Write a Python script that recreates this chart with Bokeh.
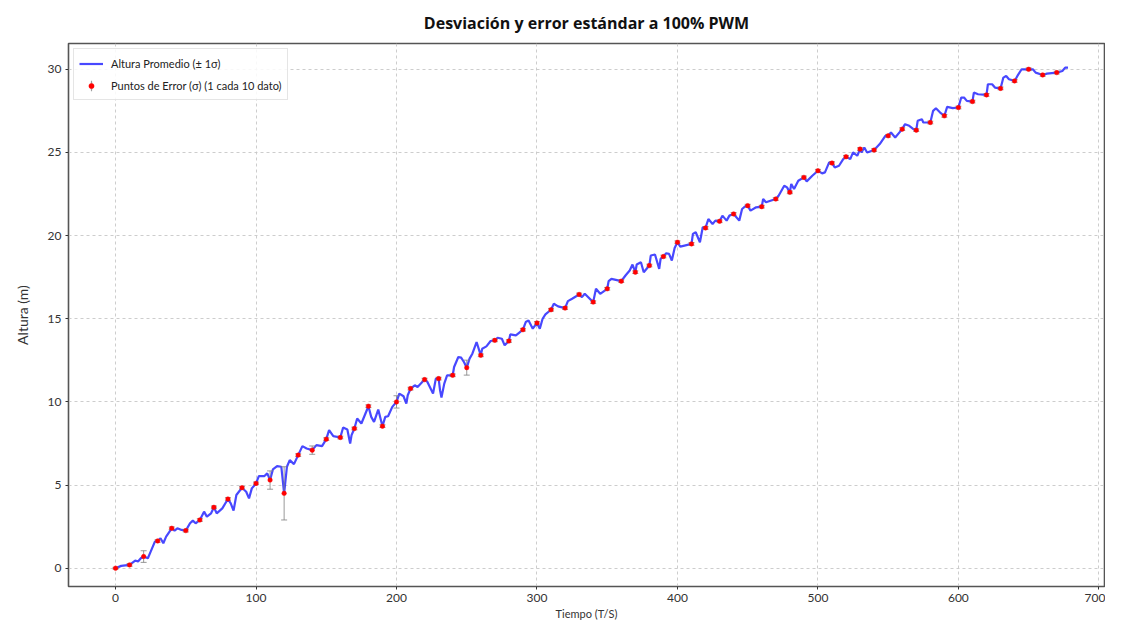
import math
from bokeh.plotting import figure
from bokeh.models import Range1d, SingleIntervalTicker, Legend, LegendItem, ColumnDataSource
from bokeh.embed import file_html
from bokeh.resources import INLINE

# ---- data ----
tiempo = [0, 4, 10, 14, 16, 18, 20, 23, 25, 28, 30, 32, 34, 36, 40, 42, 44, 47, 50, 53, 55, 57, 60, 63, 65, 68, 70, 72, 76, 80,
          82, 84, 86, 90, 93, 95, 97, 100, 102, 106, 108, 110, 112, 115, 118, 120, 122, 124, 127, 130, 133, 136, 140, 143, 147, 150,
          152, 155, 160, 162, 165, 167, 168, 170, 172, 175, 180, 182, 184, 187, 190, 192, 194, 197, 200, 202, 205, 207, 208, 210,
          213, 215, 220, 222, 226, 228, 230, 231, 232, 234, 236, 240, 241, 244, 246, 248, 250, 252, 254, 257, 260, 261, 264, 267,
          270, 272, 275, 277, 280, 281, 285, 287, 290, 292, 294, 297, 300,
          302, 304, 306, 310, 312, 315, 320, 322, 325, 330, 332, 334, 340, 342, 345, 350, 351, 353, 360, 363, 366, 368, 370, 371,
          374, 376, 380, 381, 384, 387, 388, 390, 392, 394, 396, 398, 400, 402, 405, 410, 411, 413, 416, 418, 420, 422, 425, 427,
          430, 432, 435, 437, 440, 444, 446, 448,
          450, 452, 456, 460, 461, 463, 470, 472, 476, 478, 480, 481, 483, 486, 490, 492, 496, 500, 503, 505, 508, 510, 512, 515,
          518, 520, 523, 525, 528, 530, 531, 533, 535, 540, 544, 548, 550, 552, 555, 560, 562, 565, 568, 570, 571, 574, 575, 580,
          582, 584, 587, 590, 592, 596, 600,
          602, 604, 606, 610, 611, 614, 620, 621, 624, 626, 630, 632, 634, 636, 640, 642, 645, 650, 653, 655, 660, 663, 670, 674,
          676, 678]
altura = [0, 0.14, 0.2, 0.46, 0.4, 0.6, 0.7, 0.6, 1.0, 1.6, 1.64, 1.8, 1.5, 1.9, 2.4, 2.26, 2.4, 2.3, 2.26, 2.7, 2.86, 2.7, 2.9,
          3.4, 3.1, 3.3, 3.66, 3.3, 3.6, 4.16, 3.9, 3.46, 4.4, 4.84, 4.6, 4.2, 4.8, 5.1, 5.54, 5.54, 5.7, 5.3, 5.94, 6.14, 6.1, 4.5,
          6.1, 6.5, 6.26, 6.8, 7.34, 7.2, 7.1, 7.4, 7.34, 7.76,
          8.3, 7.94, 7.86, 8.46, 8.34, 7.5, 8.0, 8.4, 9.0, 8.7, 9.74, 9.1, 8.8, 9.54, 8.54, 9.1, 9.14, 9.7, 10.0, 10.5, 10.34, 9.9,
          10.4, 10.8, 11.0, 10.9, 11.34, 11.2, 10.5, 11.4, 11.4, 10.7, 10.26, 11.1, 11.6, 11.6, 12.1, 12.7, 12.66, 12.4, 12.06,
          12.6, 12.9, 13.6, 12.8, 13.2, 13.34, 13.66, 13.7, 13.86, 13.8, 13.4, 13.66, 14.06, 14.0, 14.14, 14.34, 14.8, 14.9, 14.4,
          14.75,
          14.4, 15.0, 15.26, 15.54, 15.9, 15.74, 15.64, 16.06, 16.2, 16.46, 16.3, 16.5, 16.0, 16.8, 16.5, 16.8, 17.26, 17.4, 17.26,
          17.6, 17.9, 18.26, 17.8, 18.26, 18.4, 17.8, 18.2, 18.8, 18.86, 18.0, 18.6, 18.74, 18.94, 18.9, 18.5, 19.26, 19.6, 19.34,
          19.4, 19.5, 20.1, 20.2, 19.6, 20.5, 20.46, 21.0, 20.7, 20.9, 20.86, 21.2, 20.9, 21.2, 21.3, 20.9, 21.6, 21.74,
          21.8, 21.5, 21.7, 21.74, 22.2, 22.0, 22.2, 22.4, 23.0, 22.9, 22.6, 23.1, 22.8, 23.3, 23.5, 23.26, 23.6, 23.9, 23.74, 23.8,
          24.4, 24.36, 24.1, 24.2, 24.6, 24.74, 24.6, 25.0, 24.8, 25.2, 25.0, 25.3, 25.0, 25.14, 25.5, 26.0, 26.0, 26.2, 25.9, 26.4,
          26.7, 26.6, 26.4, 26.34, 26.9, 27.0, 26.8, 26.8, 27.5, 27.66, 27.4, 27.2, 27.74, 27.66, 27.7,
          28.3, 28.3, 28.1, 28.06, 28.6, 28.5, 28.46, 29.1, 29.1, 28.9, 28.85, 29.5, 29.6, 29.4, 29.3, 29.6, 30.0, 30.0, 30.0, 29.8,
          29.66, 29.74, 29.8, 29.9, 30.1, 30.1]

t_err = list(range(0, 680, 10))
y_err = [0, 0.2, 0.7, 1.64, 2.4, 2.26, 2.9, 3.66, 4.16, 4.84, 5.1, 5.3, 4.5, 6.8, 7.1, 7.76, 7.86, 8.4, 9.74, 8.54,
         10.0, 10.8, 11.34, 11.4, 11.6, 12.06, 12.8, 13.7, 13.66, 14.34, 14.75, 15.54, 15.64, 16.46, 16.0, 16.8, 17.26,
         17.8, 18.2, 18.74, 19.6, 19.5, 20.46, 20.86, 21.3, 21.8, 21.74, 22.2, 22.6, 23.5, 23.9, 24.36, 24.74, 25.2,
         25.14, 26.0, 26.4, 26.34, 26.8, 27.2, 27.7, 28.06, 28.46, 28.85, 29.3, 30.0, 29.66, 29.8]
sigma = [0.05, 0.08, 0.35, 0.08, 0.08, 0.08, 0.08, 0.08, 0.08, 0.08, 0.08, 0.55, 1.6, 0.08, 0.25, 0.08, 0.08, 0.08, 0.08,
         0.08, 0.37, 0.08, 0.08, 0.08, 0.08, 0.45, 0.08, 0.08, 0.08, 0.08, 0.08, 0.08, 0.08, 0.08, 0.08, 0.08, 0.08, 0.08,
         0.08, 0.08, 0.08, 0.08, 0.08, 0.08, 0.08, 0.08, 0.08, 0.08, 0.08, 0.08, 0.08, 0.08, 0.08, 0.08, 0.08, 0.08, 0.08,
         0.08, 0.08, 0.08, 0.08, 0.08, 0.08, 0.08, 0.08, 0.08, 0.08, 0.08]

x_ticks_step = 100
y_ticks_step = 5

FONT = "Lato"

p = figure(width=1105, height=622, output_backend="svg", toolbar_location=None,
           x_range=Range1d(-33.5, 704), y_range=Range1d(-1.1, 31.55),
           title="Desviación y error estándar a 100% PWM",
           min_border_left=68, min_border_right=1)

p.title.align = "center"
p.title.text_font = "Open Sans"
p.title.text_font_style = "bold"
p.title.text_font_size = "16px"
p.title.text_color = "#111111"
p.title.standoff = 19

p.outline_line_color = "#555555"
p.outline_line_width = 1.6

for ax in (p.xaxis[0], p.yaxis[0]):
    ax.axis_line_color = None
    ax.major_tick_out = 3
    ax.major_tick_in = 0
    ax.minor_tick_line_color = None
    ax.major_tick_line_color = "#333333"
    ax.major_label_text_font = FONT
    ax.major_label_text_font_size = "12px"
    ax.major_label_text_color = "#333333"
    ax.major_label_standoff = 3
    ax.axis_label_text_font = FONT
    ax.axis_label_text_font_style = "normal"
    ax.axis_label_text_color = "#333333"

p.xaxis.ticker = SingleIntervalTicker(interval=x_ticks_step)
p.yaxis.ticker = SingleIntervalTicker(interval=y_ticks_step)
p.xaxis.axis_label = "Tiempo (T/S)"
p.xaxis.axis_label_text_font_size = "11px"
p.xaxis.axis_label_standoff = 2
p.yaxis.axis_label = "Altura (m)"
p.yaxis.axis_label_text_font_size = "14px"
p.yaxis.axis_label_standoff = 14

for g in (p.xgrid[0], p.ygrid[0]):
    g.grid_line_color = "#c8c8c8"
    g.grid_line_dash = "3 3"
    g.grid_line_alpha = 0.9
    g.grid_line_width = 1

line_r = p.line(tiempo, altura, line_color="#1a1aff", line_width=2.2, line_alpha=0.8)

lo = [v - s for v, s in zip(y_err, sigma)]
hi = [v + s for v, s in zip(y_err, sigma)]
src = ColumnDataSource(dict(t=t_err, y=y_err, lo=lo, hi=hi))
p.segment(x0="t", y0="lo", x1="t", y1="hi", source=src, line_color="gray", line_alpha=0.8, line_width=1)
p.scatter(x="t", y="lo", source=src, marker="dash", size=6, line_color="gray", line_alpha=0.8)
p.scatter(x="t", y="hi", source=src, marker="dash", size=6, line_color="gray", line_alpha=0.8)
pts = p.scatter(x="t", y="y", source=src, marker="circle", size=4.5, fill_color="red", line_color="red",
                line_width=0.5)

# legend-only glyph: a thin vertical bar (placed outside the visible range)
leg_bar = p.ellipse(x=[-1000], y=[-1000], width=1, height=16, width_units="screen", height_units="screen",
                    fill_color="gray", fill_alpha=0.8, line_color="gray", line_alpha=0.8, line_width=0.6)

legend = Legend(items=[
    LegendItem(label="Altura Promedio (± 1σ)", renderers=[line_r]),
    LegendItem(label="Puntos de Error (σ) (1 cada 10 dato)", renderers=[leg_bar, pts]),
], location="top_left")
legend.label_text_font = FONT
legend.label_text_font_size = "11px"
legend.label_text_color = "#222222"
legend.glyph_width = 24
legend.label_standoff = 8
legend.label_height = 18
legend.glyph_height = 13
legend.spacing = 4
legend.padding = 5
legend.margin = 5
legend.border_line_color = "#cccccc"
legend.background_fill_alpha = 0.85
p.add_layout(legend)

open("out.html", "w").write(file_html(p, INLINE))
